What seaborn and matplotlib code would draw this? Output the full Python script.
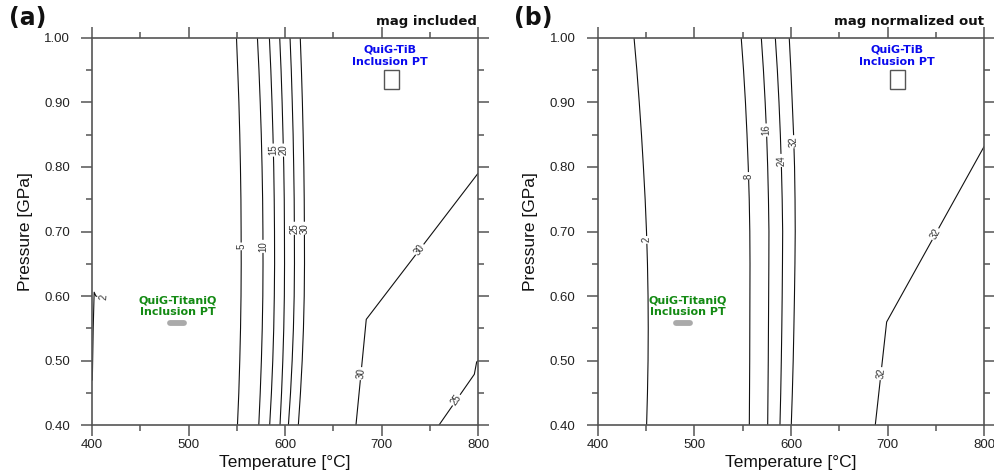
import numpy as np
import matplotlib
matplotlib.use("Agg")
import matplotlib.pyplot as plt
import seaborn as sns
import pandas as pd
from matplotlib.ticker import MultipleLocator, FormatStrFormatter
from matplotlib.patches import Rectangle

# ---------------- data ----------------
P_grid = [1.00, 0.95, 0.90, 0.85, 0.80, 0.75, 0.70, 0.65, 0.60, 0.55, 0.50, 0.45, 0.40]

# panel (a): mag included
a_T5 = [549.7, 551.0, 552.2, 553.1, 553.8, 554.3, 554.5, 554.6, 554.4, 553.9, 553.1, 552.1, 550.7]
a_T10 = [571.4, 573.0, 574.3, 575.4, 576.2, 576.8, 577.1, 577.2, 577.0, 576.4, 575.5, 574.3, 572.8]
a_T15 = [583.8, 585.3, 586.5, 587.5, 588.3, 588.8, 589.1, 589.2, 588.9, 588.3, 587.3, 585.9, 584.1]
a_T20 = [594.5, 595.9, 597.0, 597.9, 598.7, 599.2, 599.4, 599.5, 599.3, 598.7, 597.7, 596.4, 594.8]
a_T25 = [605.2, 606.5, 607.5, 608.4, 609.0, 609.5, 609.7, 609.8, 609.5, 608.7, 607.4, 605.7, 603.5]
a_T30 = [615.8, 617.0, 618.0, 618.8, 619.5, 619.9, 620.1, 620.2, 619.9, 619.1, 617.8, 616.0, 613.8]
a_T30b = [673.5, 684.2, 800.0]
a_P30b = [0.40, 0.564, 0.790]
a_T25b = [759.4, 796.2, 798.6, 800.0]
a_P25b = [0.40, 0.479, 0.498, 0.500]
a_T2 = [400.3, 401.2, 402.2, 404.0, 411.7]
a_P2 = [0.470, 0.550, 0.606, 0.600, 0.598]

# panel (b): mag normalized out
b_T2 = [437.6, 440.5, 443.0, 445.3, 447.3, 449.1, 450.5, 451.5, 452.1, 452.3, 452.1, 451.5, 450.6]
b_T8 = [548.5, 550.9, 552.9, 554.5, 555.8, 556.8, 557.4, 557.6, 557.5, 557.4, 557.3, 557.1, 556.9]
b_T16 = [569.3, 571.5, 573.3, 574.8, 575.9, 576.7, 577.2, 577.1, 576.9, 576.7, 576.5, 576.2, 575.9]
b_T24 = [583.8, 585.9, 587.6, 589.0, 590.1, 590.9, 591.4, 591.2, 590.9, 590.5, 590.0, 589.4, 588.6]
b_T32 = [598.2, 599.9, 601.3, 602.7, 603.7, 604.2, 604.4, 604.1, 603.6, 603.0, 602.3, 601.4, 600.3]
b_T32b = [687.2, 699.0, 800.0]
b_P32b = [0.40, 0.560, 0.832]

# inclusion PT markers
tib_T = [702.3, 718.2]
tib_P = [0.920, 0.950]
titaniq_T = [481.0, 495.5]
titaniq_P = [0.559, 0.559]

# ---------------- style ----------------
sns.set_theme(style="white")
plt.rcParams["font.family"] = ["Liberation Sans", "DejaVu Sans"]
AX_COL = "#555555"

fig = plt.figure(figsize=(9.95, 4.74), dpi=100)
ax_a = fig.add_axes([0.0925, 0.1027, 0.3879, 0.8178])
ax_b = fig.add_axes([0.6007, 0.1027, 0.3885, 0.8178])


def style_axes(ax):
    ax.set_xlim(400, 800)
    ax.set_ylim(0.40, 1.00)
    ax.xaxis.set_major_locator(MultipleLocator(100))
    ax.xaxis.set_minor_locator(MultipleLocator(50))
    ax.yaxis.set_major_locator(MultipleLocator(0.1))
    ax.yaxis.set_minor_locator(MultipleLocator(0.05))
    ax.yaxis.set_major_formatter(FormatStrFormatter("%.2f"))
    ax.tick_params(which="both", direction="out", top=True, right=True,
                   bottom=True, left=True, labeltop=False, labelright=False,
                   color=AX_COL, width=1.1, labelsize=9.5, labelcolor="#222222")
    ax.tick_params(which="major", length=8)
    ax.tick_params(which="minor", length=4)
    ax.tick_params(axis="y", which="major", pad=8)
    ax.tick_params(axis="x", which="major", pad=2)
    for s in ax.spines.values():
        s.set_visible(True)
        s.set_color(AX_COL)
        s.set_linewidth(1.2)
    ax.set_xlabel("Temperature [°C]", fontsize=12.5, labelpad=3, color="#111111")
    ax.set_ylabel("Pressure [GPa]", fontsize=12.5, labelpad=8, color="#111111")
    ax.grid(False)
    ax.set_facecolor("white")


def draw_line(ax, T, P):
    df = pd.DataFrame({"T": T, "P": P})
    sns.lineplot(data=df, x="T", y="P", sort=False, estimator=None, ax=ax,
                 color="#111111", linewidth=0.8, legend=False)


def label_line(ax, T, P, text, p_at, rot=None):
    T = np.asarray(T, float)
    P = np.asarray(P, float)
    order = np.argsort(P)
    Ps, Ts = P[order], T[order]
    t_at = np.interp(p_at, Ps, Ts)
    if rot is None:
        dp = 0.01
        t0 = np.interp(p_at - dp, Ps, Ts)
        t1 = np.interp(p_at + dp, Ps, Ts)
        x0, y0 = ax.transData.transform((t0, p_at - dp))
        x1, y1 = ax.transData.transform((t1, p_at + dp))
        rot = np.degrees(np.arctan2(y1 - y0, x1 - x0))
    ax.text(t_at, p_at, text, rotation=rot, rotation_mode="anchor",
            ha="center", va="center", fontsize=7, color="#333333",
            bbox=dict(boxstyle="square,pad=0.12", fc="white", ec="none"),
            zorder=5)


def markers(ax, tib_x, titaniq_x):
    ax.add_patch(Rectangle((tib_T[0], tib_P[0]), tib_T[1] - tib_T[0],
                           tib_P[1] - tib_P[0], fill=False, ec=AX_COL, lw=1.0, zorder=4))
    ax.text(tib_x, 0.972, "QuiG-TiB\nInclusion PT", ha="center", va="center",
            fontsize=8, fontweight="bold", color="#0a0aee", family="DejaVu Sans",
            linespacing=1.2)
    ax.plot(titaniq_T, titaniq_P, color="#aaaaaa", lw=4.2, solid_capstyle="round",
            zorder=4)
    ax.text(titaniq_x, 0.584, "QuiG-TitaniQ\nInclusion PT", ha="center", va="center",
            fontsize=8, fontweight="bold", color="#138a13", family="DejaVu Sans",
            linespacing=1.2)


for ax in (ax_a, ax_b):
    style_axes(ax)

# panel (a)
for T, txt, p_at in [(a_T5, "5", 0.677), (a_T10, "10", 0.677), (a_T15, "15", 0.826),
                     (a_T20, "20", 0.826), (a_T25, "25", 0.705), (a_T30, "30", 0.705)]:
    draw_line(ax_a, T, P_grid)
    label_line(ax_a, T, P_grid, txt, p_at)
draw_line(ax_a, a_T30b, a_P30b)
label_line(ax_a, a_T30b, a_P30b, "30", 0.480)
label_line(ax_a, a_T30b, a_P30b, "30", 0.672)
draw_line(ax_a, a_T25b, a_P25b)
label_line(ax_a, a_T25b, a_P25b, "25", 0.439)
draw_line(ax_a, a_T2, a_P2)
ax_a.text(a_T2[-1], a_P2[-1], "2", rotation=85, ha="center", va="center",
          fontsize=7, color="#333333",
          bbox=dict(boxstyle="square,pad=0.12", fc="white", ec="none"), zorder=5)
markers(ax_a, 708.3, 488.6)

# panel (b)
for T, txt, p_at in [(b_T2, "2", 0.687), (b_T8, "8", 0.786), (b_T16, "16", 0.857),
                     (b_T24, "24", 0.810), (b_T32, "32", 0.839)]:
    draw_line(ax_b, T, P_grid)
    label_line(ax_b, T, P_grid, txt, p_at)
draw_line(ax_b, b_T32b, b_P32b)
label_line(ax_b, b_T32b, b_P32b, "32", 0.480)
label_line(ax_b, b_T32b, b_P32b, "32", 0.696)
markers(ax_b, 709.7, 493.0)

for ax in (ax_a, ax_b):
    ax.set_xlim(400, 800)
    ax.set_ylim(0.40, 1.00)

# panel titles
fig.text(9 / 995, 1 - 18 / 474, "(a)", ha="left", va="center", fontsize=17,
         fontweight="bold", family="DejaVu Sans", color="#111111")
fig.text(514 / 995, 1 - 18 / 474, "(b)", ha="left", va="center", fontsize=17,
         fontweight="bold", family="DejaVu Sans", color="#111111")
fig.text(477 / 995, 1 - 25 / 474, "mag included", ha="right", va="baseline",
         fontsize=9.5, fontweight="bold", family="DejaVu Sans", color="#111111")
fig.text(984 / 995, 1 - 25 / 474, "mag normalized out", ha="right", va="baseline",
         fontsize=9.5, fontweight="bold", family="DejaVu Sans", color="#111111")

fig.savefig("out.png", dpi=100, facecolor="white")
